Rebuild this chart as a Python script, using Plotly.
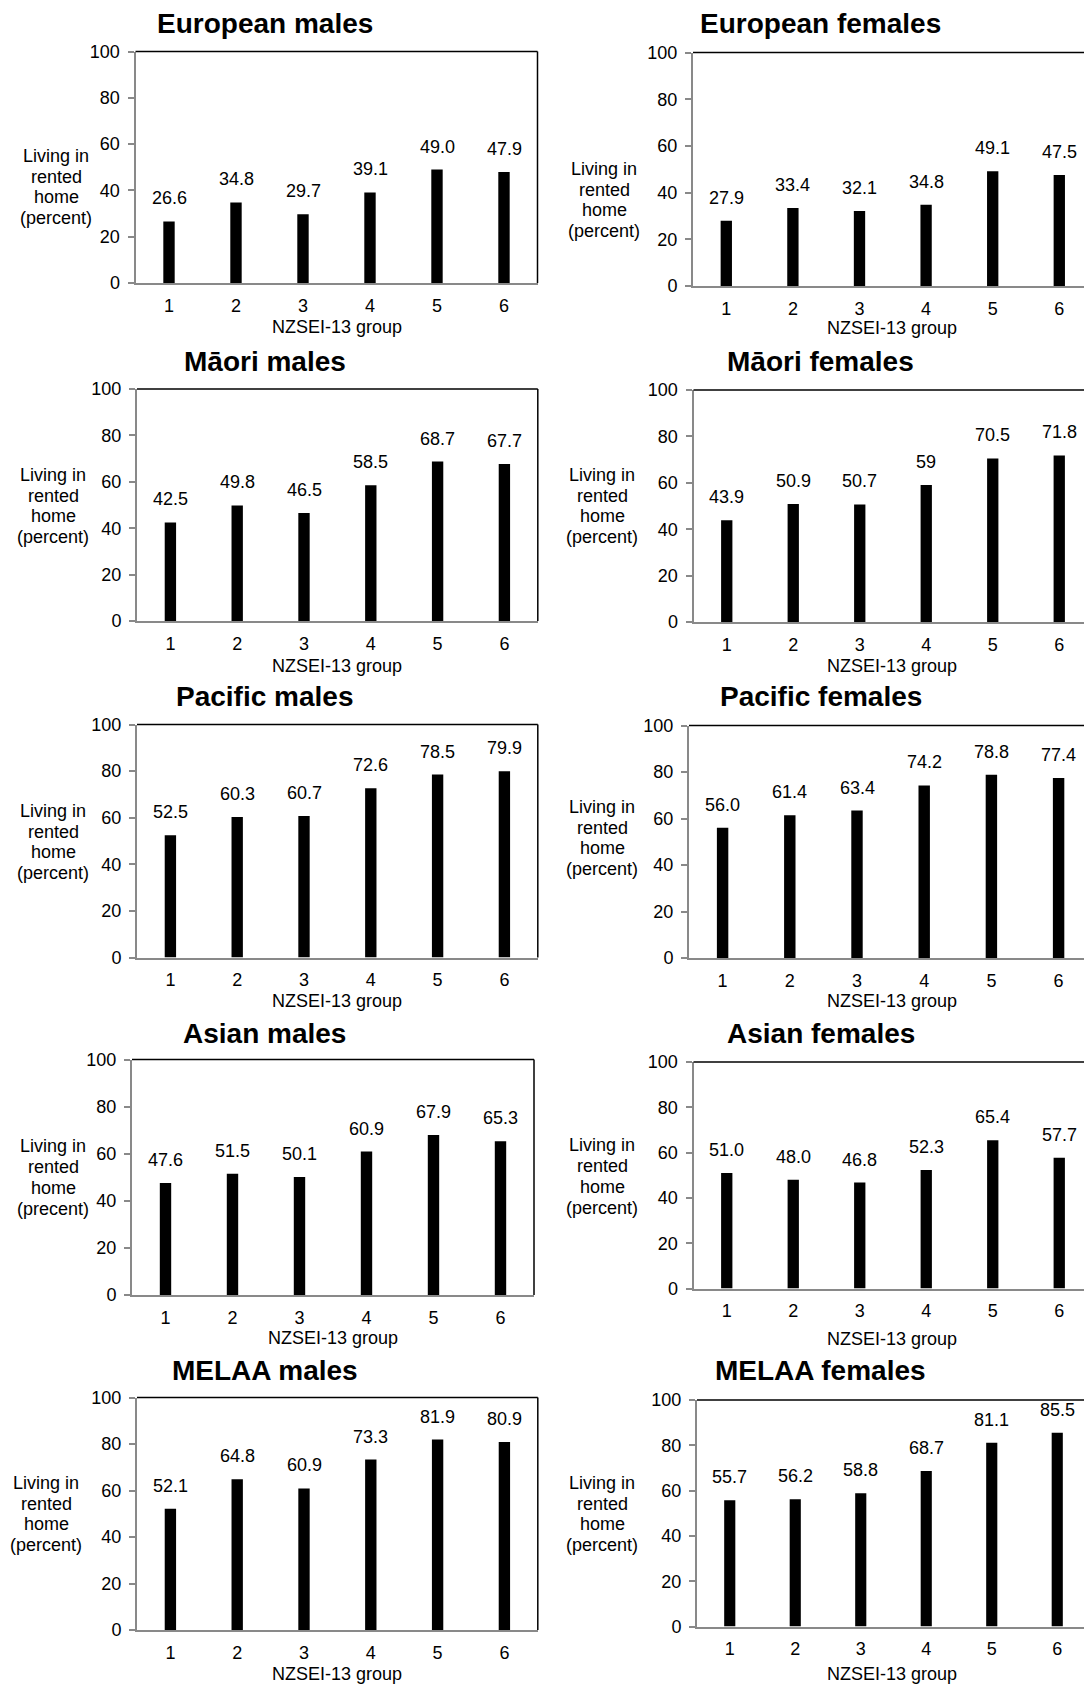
import plotly.graph_objects as go

W, H = 1084, 1686

groups = [1, 2, 3, 4, 5, 6]
y_ticks = [0, 20, 40, 60, 80, 100]

european_males = [26.6, 34.8, 29.7, 39.1, 49.0, 47.9]
european_females = [27.9, 33.4, 32.1, 34.8, 49.1, 47.5]
maori_males = [42.5, 49.8, 46.5, 58.5, 68.7, 67.7]
maori_females = [43.9, 50.9, 50.7, 59, 70.5, 71.8]
maori_females_labels = ["43.9", "50.9", "50.7", "59", "70.5", "71.8"]
pacific_males = [52.5, 60.3, 60.7, 72.6, 78.5, 79.9]
pacific_females = [56.0, 61.4, 63.4, 74.2, 78.8, 77.4]
asian_males = [47.6, 51.5, 50.1, 60.9, 67.9, 65.3]
asian_females = [51.0, 48.0, 46.8, 52.3, 65.4, 57.7]
melaa_males = [52.1, 64.8, 60.9, 73.3, 81.9, 80.9]
melaa_females = [55.7, 56.2, 58.8, 68.7, 81.1, 85.5]

panel_titles = ["European males", "European females", "Māori males", "Māori females",
                "Pacific males", "Pacific females", "Asian males", "Asian females",
                "MELAA males", "MELAA females"]
y_title_lines = ["Living in", "rented", "home", "(percent)"]
y_title_lines_asian_m = ["Living in", "rented", "home", "(precent)"]
x_title = "NZSEI-13 group"

series = [european_males, european_females, maori_males, maori_females,
          pacific_males, pacific_females, asian_males, asian_females,
          melaa_males, melaa_females]
labels = [None, None, None, maori_females_labels, None, None, None, None, None, None]
y_titles = [y_title_lines] * 10
y_titles[6] = y_title_lines_asian_m

# layout in pixels: left, spacing, top, bottom, title(x,y), ytitle(x,y), xtitle(x,y)
geom = [
    (135.5, 67.0, 51.5, 283.0, (264.5, 23.7), (56, 187), (336.6, 327)),
    (693.0, 66.6, 52.5, 286.0, (820.5, 23.7), (604, 200), (891.5, 328)),
    (137.0, 66.8, 389.0, 621.0, (264.5, 361.3), (53, 506), (336.6, 665.7)),
    (693.5, 66.5, 390.0, 622.0, (820.5, 361.3), (602, 506), (891.5, 665.7)),
    (137.0, 66.8, 724.5, 957.5, (264.5, 696.9), (53, 842), (336.6, 1001)),
    (689.0, 67.2, 725.5, 958.0, (820.5, 696.9), (602, 838), (891.5, 1001)),
    (132.0, 67.0, 1059.5, 1295.0, (264.5, 1033.5), (53, 1177.6), (333, 1337.8)),
    (693.5, 66.5, 1062.0, 1288.5, (820.5, 1033.5), (602, 1176.5), (891.5, 1339)),
    (137.0, 66.8, 1397.5, 1630.0, (264.5, 1370), (46, 1514), (336.6, 1674.4)),
    (697.0, 65.5, 1400.0, 1626.5, (820.5, 1370), (602, 1514), (891.5, 1674.4)),
]
LINE_GAP = 20.8

FONT = "Liberation Sans, Arial, sans-serif"
AXIS_GRAY = "#898989"

fig = go.Figure()
annotations = []
shapes = []
layout_axes = {}

for i, (vals, g) in enumerate(zip(series, geom)):
    k = i + 1
    left, sp, top, bottom, tpos, ypos, xpos = g
    right_full = left + 6 * sp
    right = min(right_full, W)
    is_female = (i % 2 == 1)
    xs = "" if k == 1 else str(k)
    xname, yname = "x" + xs, "y" + xs

    fig.add_trace(go.Bar(
        x=groups, y=vals, width=0.17,
        marker=dict(color="black", line=dict(width=0)),
        xaxis=xname, yaxis=yname, showlegend=False, hoverinfo="skip",
    ))

    txt = labels[i] if labels[i] is not None else [f"{v:.1f}" for v in vals]
    for gx, v, t in zip(groups, vals, txt):
        annotations.append(dict(
            x=gx, y=v, xref=xname, yref=yname, text=t, showarrow=False,
            yanchor="bottom", xanchor="center", yshift=11,
            font=dict(size=18, color="black", family=FONT),
        ))

    layout_axes["xaxis" + xs] = dict(
        domain=[left / W, right / W],
        range=[0.5, 0.5 + (right - left) / sp],
        tickvals=groups, ticktext=[str(gv) for gv in groups],
        showline=True, linecolor=AXIS_GRAY, linewidth=2,
        ticks="", showgrid=False, zeroline=False, automargin=False,
        anchor=yname, tickfont=dict(size=18, color="black", family=FONT),
        ticklabelstandoff=5, fixedrange=True,
    )
    layout_axes["yaxis" + xs] = dict(
        domain=[1 - bottom / H, 1 - top / H],
        range=[0, 100], tickvals=y_ticks,
        showline=True, linecolor=AXIS_GRAY, linewidth=2,
        ticks="outside", ticklen=6, tickwidth=2, tickcolor=AXIS_GRAY,
        showgrid=False, zeroline=False, anchor=xname, automargin=False,
        tickfont=dict(size=18, color="black", family=FONT),
        ticklabelstandoff=4, fixedrange=True,
    )

    shapes.append(dict(type="line", xref=xname + " domain", yref=yname + " domain",
                       x0=0, x1=1, y0=1, y1=1, line=dict(color="black", width=1.5)))
    if not is_female:
        shapes.append(dict(type="line", xref=xname + " domain", yref=yname + " domain",
                           x0=1, x1=1, y0=0, y1=1, line=dict(color="black", width=1.5)))

    annotations.append(dict(
        x=tpos[0] / W, y=1 - tpos[1] / H, xref="paper", yref="paper",
        text="<b>" + panel_titles[i] + "</b>", showarrow=False,
        xanchor="center", yanchor="middle",
        font=dict(size=28, color="black", family=FONT),
    ))
    lines = y_titles[i]
    n = len(lines)
    for j, ln in enumerate(lines):
        ly = ypos[1] + (j - (n - 1) / 2) * LINE_GAP
        annotations.append(dict(
            x=ypos[0] / W, y=1 - ly / H, xref="paper", yref="paper",
            text=ln, showarrow=False, xanchor="center", yanchor="middle",
            font=dict(size=18, color="black", family=FONT),
        ))
    annotations.append(dict(
        x=xpos[0] / W, y=1 - xpos[1] / H, xref="paper", yref="paper",
        text=x_title, showarrow=False,
        xanchor="center", yanchor="middle",
        font=dict(size=18, color="black", family=FONT),
    ))

fig.update_layout(
    template="none",
    width=W, height=H,
    margin=dict(l=0, r=0, t=0, b=0, pad=0, autoexpand=False),
    paper_bgcolor="white", plot_bgcolor="white",
    font=dict(family=FONT, size=18, color="black"),
    annotations=annotations, shapes=shapes,
    showlegend=False,
    **layout_axes,
)

fig.write_html(
    "out.html",
    config={"displayModeBar": False},
    post_script="document.body.style.margin='0';document.body.style.overflow='hidden';",
)
